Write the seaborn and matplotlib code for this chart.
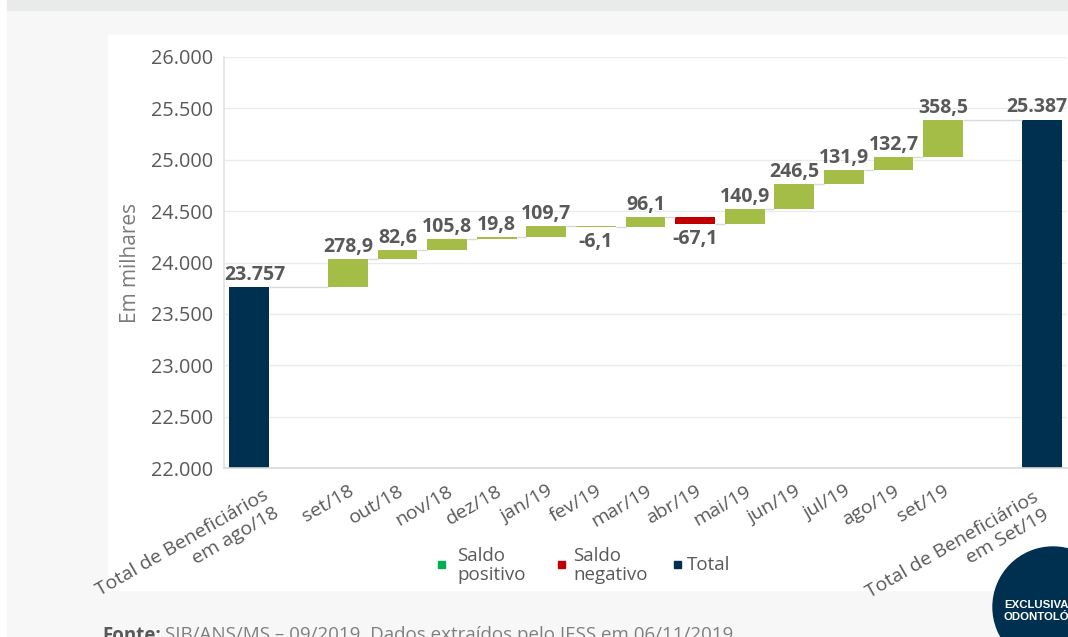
import numpy as np
import pandas as pd
import matplotlib.pyplot as plt
import matplotlib.patches as mpatches
import matplotlib.transforms as mtransforms
from matplotlib.ticker import FuncFormatter, FixedLocator
import seaborn as sns

# --- DATA ---
start_label = "Total de Beneficiários\nem ago/18"
end_label = "Total de Beneficiários\nem Set/19"
months = ["set/18", "out/18", "nov/18", "dez/18", "jan/19", "fev/19", "mar/19",
          "abr/19", "mai/19", "jun/19", "jul/19", "ago/19", "set/19"]
monthly_change = [278.9, 82.6, 105.8, 19.8, 109.7, -6.1, 96.1,
                  -67.1, 140.9, 246.5, 131.9, 132.7, 358.5]
start_total = 23757
end_total = 25387
# fev/19 is drawn green in the source, only abr/19 is red
bar_kind = ["pos", "pos", "pos", "pos", "pos", "pos", "pos",
            "neg", "pos", "pos", "pos", "pos", "pos"]
legend_labels = ["Saldo\npositivo", "Saldo\nnegativo", "Total"]

# --- COLOURS ---
GREEN = "#a4bd46"
RED = "#c00000"
NAVY = "#00304f"
LEG_GREEN = "#00b050"
TXT = "#595959"
colour_of = {"pos": GREEN, "neg": RED, "tot": NAVY, "gap": "white"}

# build waterfall table (with an empty slot either side of the months)
keys = ["start", "gap1"] + months + ["gap2", "end"]
tick_labels = [start_label, ""] + months + ["", end_label]
heights, bottoms, kinds = [start_total, 0], [0, 0], ["tot", "gap"]
level = start_total
for d, k in zip(monthly_change, bar_kind):
    heights.append(abs(d))
    bottoms.append(level if d >= 0 else level + d)
    kinds.append(k)
    level += d
heights += [0, end_total]
bottoms += [0, 0]
kinds += ["gap", "tot"]
df = pd.DataFrame({"key": keys, "height": heights, "bottom": bottoms, "kind": kinds})

W, H = 1068, 637
sns.set_theme(style="white")
plt.rcParams["font.family"] = ["Open Sans", "DejaVu Sans"]

fig = plt.figure(figsize=(W / 100, H / 100), dpi=100, facecolor="white")

# page background pieces (screenshot look)
def px_rect(x0, y0, x1, y1, color, z=-10):
    fig.patches.append(mpatches.Rectangle((x0 / W, 1 - y1 / H), (x1 - x0) / W, (y1 - y0) / H,
                                          transform=fig.transFigure, color=color, zorder=z))

px_rect(7, 0, W, H, "#f7f7f7")
px_rect(7, 0, W, 10, "#e9eaea")
px_rect(108, 35, W, 590, "white")

ax = fig.add_axes([224 / W, 1 - 468 / H, 843 / W, 411 / H])
ax.set_facecolor("white")

sns.barplot(data=df, x="key", y="height", order=keys, bottom=df["bottom"].values,
            color=GREEN, saturation=1, width=0.8, errorbar=None, linewidth=0, ax=ax)
for patch, k in zip(ax.patches, kinds):
    patch.set_facecolor(colour_of[k])
    patch.set_edgecolor("none")

ax.set_ylim(22000, 26000)
ax.set_xlim(-0.5, len(keys) - 0.5)
ax.set_yticks(np.arange(22000, 26001, 500))
ax.yaxis.set_major_formatter(FuncFormatter(lambda v, p: f"{int(v):,}".replace(",", ".")))
ax.grid(axis="y", color="#ebebeb", linewidth=1)
ax.set_axisbelow(True)
for s in ["top", "right"]:
    ax.spines[s].set_visible(False)
ax.spines["left"].set_color("#e3e3e3")
ax.spines["bottom"].set_color("#d9d9d9")
ax.spines["bottom"].set_linewidth(1.2)

ax.tick_params(axis="y", length=0, pad=8, labelsize=14.3, labelcolor=TXT)
ax.set_xticks(range(len(keys)))
ax.set_xticklabels(tick_labels, rotation=30, ha="right", va="top",
                   rotation_mode="anchor", fontsize=14, color=TXT)
ax.tick_params(axis="x", which="major", length=0, pad=10)
ax.xaxis.set_minor_locator(FixedLocator(np.arange(0.5, len(keys) - 1, 1)))
ax.tick_params(axis="x", which="minor", length=4, color="#d9d9d9", width=1)

# the two long labels sit a little differently in the source
xt = ax.get_xticklabels()
xt[0].set_transform(xt[0].get_transform() + mtransforms.ScaledTranslation(14 / 100, -4 / 100, fig.dpi_scale_trans))
xt[-1].set_transform(xt[-1].get_transform() + mtransforms.ScaledTranslation(-10 / 100, -6 / 100, fig.dpi_scale_trans))

ax.set_xlabel("")
ax.set_ylabel("Em milhares", fontsize=15, color="#7a7a7a")
ax.yaxis.set_label_coords(-0.098, 0.5)

# connector lines
level = start_total
ax.hlines(level, 0.4, 1.6, color="#d9d9d9", lw=1, zorder=1)
for i, d in enumerate(monthly_change):
    level += d
    x = i + 2
    x_next = x + 1 if i < len(monthly_change) - 1 else x + 2
    ax.hlines(level, x + 0.4, x_next - 0.4, color="#d9d9d9", lw=1, zorder=1)

# value labels (totals are kept inside the plot area, like the source)
lab_kw = dict(fontsize=14, fontweight="bold", color=TXT)
ax.text(-0.5, start_total + 25, f"{start_total:,}".replace(",", "."), va="bottom", ha="left", **lab_kw)
ax.text(len(keys) - 0.5, end_total + 25, f"{end_total:,}".replace(",", "."), va="bottom", ha="right", **lab_kw)
level = start_total
for i, d in enumerate(monthly_change):
    txt = f"{d:.1f}".replace(".", ",")
    if d >= 0:
        ax.text(i + 2, level + d + 20, txt, va="bottom", ha="center", **lab_kw)
    else:
        ax.text(i + 2, level + d - 50, txt, va="top", ha="center", **lab_kw)
    level += d

# legend, laid out as in the source (small squares, uneven gaps)
leg_colors = [LEG_GREEN, RED, NAVY]
leg_marker_x = [441, 561, 677]
leg_text_x = [457, 573, 687]
for lab, c, mx, tx in zip(legend_labels, leg_colors, leg_marker_x, leg_text_x):
    px_rect(mx - 3.5, 561, mx + 3.5, 568, c, z=5)
    fig.text(tx / W, 1 - 565.5 / H, lab, fontsize=13.5, color=TXT, va="center", ha="left",
             linespacing=1.1)

# footer + badge
fig.text(102 / W, 1 - 626 / H, "Fonte:", fontsize=13.5, fontweight="bold", color=TXT, va="top")
fig.text(165 / W, 1 - 626 / H, "SIB/ANS/MS – 09/2019. Dados extraídos pelo IESS em 06/11/2019",
         fontsize=13.5, color="#7f7f7f", va="top")
fig.patches.append(mpatches.Ellipse((1053 / W, 1 - 607 / H), 120 / W, 120 / H,
                                    transform=fig.transFigure, color=NAVY, zorder=5))
fig.text(1004 / W, 1 - 611 / H, "EXCLUSIVA\nODONTOLÓGICO", fontsize=8.2, fontweight="bold",
         color="white", va="center",
         family=["Liberation Sans Narrow", "Liberation Sans", "DejaVu Sans"], zorder=6,
         linespacing=1.35)

fig.savefig("out.png", dpi=100)
